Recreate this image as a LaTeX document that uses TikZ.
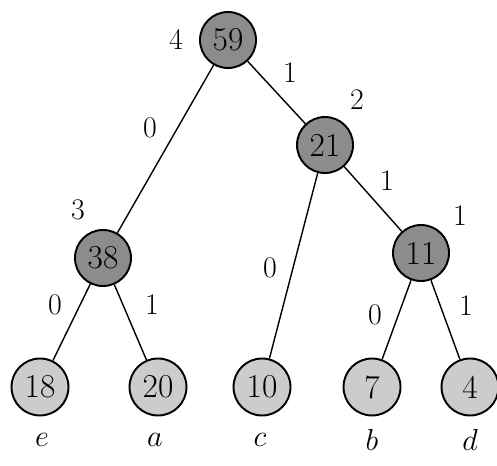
\documentclass[tikz,border=0pt]{standalone}
\usepackage{amsmath, amssymb}
\usepackage{xcolor}
\usepackage{tikz}
\usetikzlibrary{shapes,arrows,positioning,calc}

\begin{document}
\begin{tikzpicture}[
    inner/.style={circle, draw, line width=1.1pt, fill=black!45, minimum size=1.12cm, inner sep=0pt, font=\fontsize{19}{20}\selectfont},
    leaf/.style={circle, draw, line width=1.1pt, fill=black!20, minimum size=1.14cm, inner sep=0pt, font=\fontsize{19}{20}\selectfont},
    bit/.style={font=\fontsize{17}{18}\selectfont},
    sym/.style={font=\fontsize{19}{20}\selectfont},
    edge/.style={line width=0.8pt}
]
\useasboundingbox (0,0) rectangle (9.94,9.3);

% Internal nodes
\node[inner] (n59) at (4.56, 8.5) {59};
\node[inner] (n21) at (6.5, 6.4) {21};
\node[inner] (n38) at (2.06, 4.14) {38};
\node[inner] (n11) at (8.42, 4.24) {11};

% Leaves
\node[leaf] (n18) at (0.8, 1.56) {18};
\node[leaf] (n20) at (3.16, 1.56) {20};
\node[leaf] (n10) at (5.24, 1.56) {10};
\node[leaf] (n7) at (7.44, 1.56) {7};
\node[leaf] (n4) at (9.4, 1.56) {4};

% Symbols
\node[sym] (se) at (0.84, 0.5) {$e$};
\node[sym] (sa) at (3.1, 0.5) {$a$};
\node[sym] (sc) at (5.2, 0.5) {$c$};
\node[sym] (sb) at (7.44, 0.5) {$b$};
\node[sym] (sd) at (9.4, 0.5) {$d$};

% Edges
\draw[edge] (n59) -- (n38);
\draw[edge] (n59) -- (n21);
\draw[edge] (n21) -- (n10);
\draw[edge] (n21) -- (n11);
\draw[edge] (n38) -- (n18);
\draw[edge] (n38) -- (n20);
\draw[edge] (n11) -- (n7);
\draw[edge] (n11) -- (n4);

% Depths
\node[bit] (d59) at (3.52, 8.5) {4};
\node[bit] (d21) at (7.14, 7.3) {2};
\node[bit] (d38) at (1.56, 5.1) {3};
\node[bit] (d11) at (9.2, 4.98) {1};

% Bits
\node[bit] (b1) at (3.0, 6.74) {0};
\node[bit] (b2) at (5.8, 7.84) {1};
\node[bit] (b3) at (5.4, 3.94) {0};
\node[bit] (b4) at (7.74, 5.68) {1};
\node[bit] (b5) at (1.1, 3.2) {0};
\node[bit] (b6) at (3.04, 3.2) {1};
\node[bit] (b7) at (7.5, 3.0) {0};
\node[bit] (b8) at (9.32, 3.18) {1};

\end{tikzpicture}
\end{document}
